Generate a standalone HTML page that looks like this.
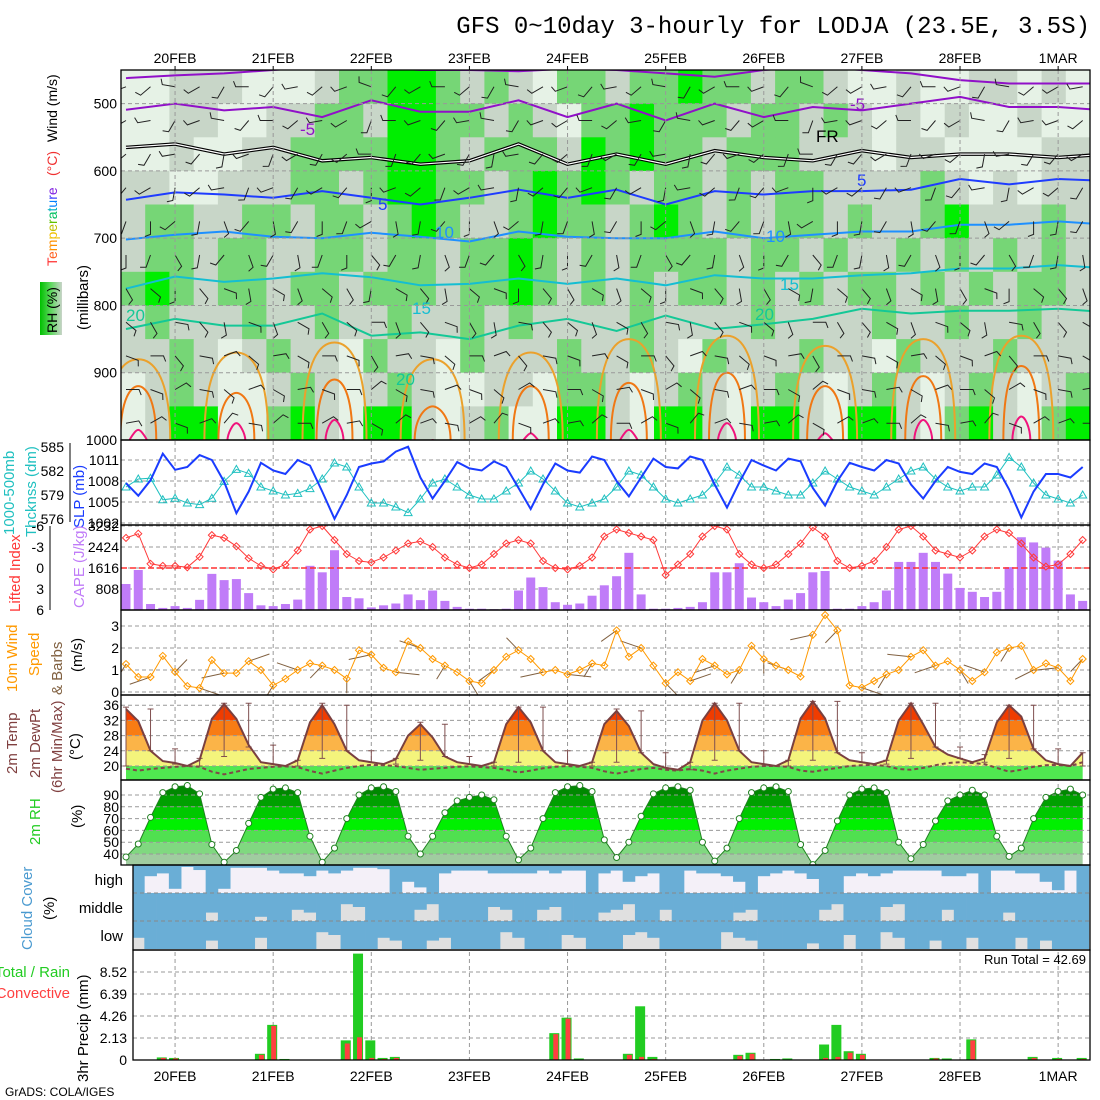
<!DOCTYPE html>
<html><head><meta charset="utf-8">
<style>
html,body{margin:0;padding:0;background:#fff;}
svg{display:block;font-family:"Liberation Sans",sans-serif;}
</style></head>
<body>
<svg id="chart" width="1100" height="1100" viewBox="0 0 1100 1100" xmlns="http://www.w3.org/2000/svg">
<defs>
<clipPath id="cpTop"><rect x="121" y="70" width="969" height="370"/></clipPath>
<clipPath id="cpSlp"><rect x="121" y="440" width="969" height="85"/></clipPath>
<clipPath id="cpLi"><rect x="121" y="525" width="969" height="85"/></clipPath>
<clipPath id="cpWs"><rect x="121" y="610" width="969" height="85"/></clipPath>
<clipPath id="cpT"><rect x="121" y="695" width="969" height="85"/></clipPath>
<clipPath id="cpRh"><rect x="121" y="780" width="969" height="85"/></clipPath>
<clipPath id="cpCl"><rect x="133" y="865" width="957" height="85"/></clipPath>
<clipPath id="cpPr"><rect x="133" y="950" width="957" height="110"/></clipPath>
<linearGradient id="rhLeg" x1="0" x2="1" y1="0" y2="0">
<stop offset="0" stop-color="#00c000"/><stop offset="0.5" stop-color="#60d860"/><stop offset="1" stop-color="#c8d4c8"/>
</linearGradient>
</defs>
<text x="1090" y="33" text-anchor="end" font-family="Liberation Mono, monospace" font-size="24" fill="#000">GFS 0~10day 3-hourly for LODJA (23.5E, 3.5S)</text>
<text x="5" y="1096" font-size="12" fill="#000">GrADS: COLA/IGES</text>
</svg>
<script>
// ---------- DATA ----------
const dayLabels=["20FEB","21FEB","22FEB","23FEB","24FEB","25FEB","26FEB","27FEB","28FEB","1MAR"];
const pressureTicks=[500,600,700,800,900,1000];
const slpTicks=[1011,1008,1005,1002];
const thkTicks=[585,582,579,576];
const liTicks=[-6,-3,0,3,6];
const capeTicks=[3232,2424,1616,808];
const wsTicks=[0,1,2,3];
const tTicks=[36,32,28,24,20];
const rhTicks=[90,80,70,60,50,40];
const prTicks=[8.52,6.39,4.26,2.13,0];
const cloudRows=["high","middle","low"];

const rhGrid=[
"1100011123344323213323343323321121100101",
"1100112233244332321334333233232121011011",
"1101122333344323332434332333222122111122",
"2211222332344332343432332323322223212122",
"2332233233234322343323432323323223422232",
"2332332233233233432323333233232232323232",
"3432332332333233432323233232323323232332",
"2322232232232232322223222232222322322322",
"2232123221322132223223213222322132223222",
"1232112321232112213321232123212321232123",
"1244113421442123114421442144214421342134"];

const isoM10=[462,458,455,450,445,445,450,450,452,448,450,455,460,450,445,450,455,465,470,470,470];
const isoM5=[509,500,510,505,520,495,512,512,495,520,500,525,500,520,505,510,500,490,505,505,510];
const iso0=[565,560,575,565,585,580,590,585,560,590,575,590,570,580,585,570,580,575,575,580,575];
const iso5=[643,632,635,640,630,640,650,640,628,640,628,650,630,635,630,630,628,612,620,612,615];
const iso10=[702,695,690,698,700,692,698,705,690,698,700,700,690,700,695,690,690,680,680,675,680];
const iso15=[775,757,765,760,752,758,770,768,760,768,760,770,755,760,760,755,752,745,745,740,745];
const iso20=[835,820,830,830,812,845,840,850,830,820,838,815,835,828,820,805,812,808,808,805,810];
const blobIdx=[1,9,17,25,33,41,49,57,65,73];
const blobTop25=[880,870,855,880,870,850,845,860,850,845];
const blobTop30=[920,930,910,950,920,915,900,920,905,890];
const blobTop35=[985,975,970,1000,990,985,975,990,970,965];

const barbLevels=[475,525,575,625,675,725,775,825,875,925,975];
const barbLevelDir=[250,240,230,220,200,180,150,130,110,90,80];
const barbTimeDir=[0,20,-30,10,40,-20,30,-10,20,0,-40,30,10,-20,20,40,-30,10,0,30,-10,20,-30,40,10,-20,0,30,-40,20,10,-10,30,-20,0,40,-30,20,10,-10];

const slp=[1007.7,1005.9,1008.1,1011.9,1009.6,1010.0,1011.7,1011.0,
1007.9,1003.4,1006.5,1010.6,1009.5,1009.0,1011.0,1010.2,
1006.5,1002.6,1006.0,1010.0,1010.5,1010.8,1012.2,1012.9,
1008.5,1005.5,1008.0,1010.7,1009.8,1009.5,1010.8,1010.0,
1007.0,1004.0,1007.5,1010.5,1009.5,1009.2,1011.5,1011.0,
1008.0,1005.8,1008.5,1011.2,1010.0,1009.8,1011.5,1011.0,
1007.5,1004.2,1007.8,1011.0,1010.2,1009.5,1011.2,1010.8,
1007.0,1004.5,1008.0,1010.6,1010.0,1009.5,1011.0,1010.5,
1007.5,1005.5,1008.0,1010.0,1009.3,1009.0,1010.5,1010.0,
1006.8,1002.8,1006.5,1009.0,1009.0,1008.5,1010.0];
const thk=[580.0,581.0,581.1,578.4,578.6,578.0,577.8,578.6,
580.7,582.2,581.7,580.0,579.5,579.0,579.2,579.8,
581.0,583.0,582.5,580.0,578.0,578.0,577.5,576.8,
578.5,580.5,581.0,580.0,579.0,578.5,578.5,579.5,
580.5,582.0,581.0,579.5,578.0,577.5,578.0,578.5,
580.0,582.0,581.5,580.0,578.5,578.0,578.5,579.0,
580.5,582.5,581.5,580.0,580.0,579.5,579.0,579.0,
580.5,582.0,581.0,580.0,579.5,579.0,580.0,581.0,
582.0,582.5,581.0,580.0,579.5,580.0,580.0,581.5,
583.7,582.5,580.5,579.0,578.5,578.0,579.0];
const li=[-4.3,-4.9,-0.6,-0.3,-0.3,-0.1,-1.6,-4.7,
-4.3,-3.1,-1.4,-0.3,0.2,-0.5,-2.5,-5.5,
-6.0,-4.0,-2.0,-1.0,-0.8,-1.5,-2.5,-3.5,
-3.8,-3.0,-1.5,-0.5,0,-0.5,-2.0,-3.5,
-4.0,-3.5,-1.0,0,0.2,-0.3,-1.5,-4.5,
-5.5,-5.0,-4.5,-4.0,1.0,-0.5,-2.0,-4.5,
-6.0,-5.5,-2.0,-0.5,0,-0.5,-2.0,-3.5,
-5.8,-4.5,-1.0,0,-0.3,-1.0,-3.0,-5.5,
-6.0,-4.5,-2.5,-2.0,-1.5,-2.5,-4.5,-5.5,
-5.0,-3.5,-1.5,-0.2,-0.5,-2.0,-4.0];
const cape=[1000,1540,230,80,150,80,390,1390,
1150,1190,650,180,150,230,400,1700,
1450,2300,500,450,100,180,250,600,
380,750,350,120,50,50,30,50,
750,1250,880,300,200,250,550,950,
1300,2200,600,50,50,80,120,300,
1450,1450,1800,480,300,150,400,650,
1450,1500,50,50,150,300,750,1850,
1850,2200,1850,1400,850,700,500,700,
1650,2800,2600,2400,1900,600,350];
const ws=[1.27,0.68,0.68,1.64,0.91,0.27,0.18,1.45,
0.86,0.86,1.4,1.0,0.3,0.6,1.0,1.3,
1.2,1.0,0.6,1.9,1.7,1.1,0.9,2.3,
2.0,1.5,1.2,0.9,0.5,0.4,1.0,1.6,
1.9,1.5,0.9,1.0,0.8,1.0,1.3,1.2,
2.8,1.6,2.0,1.2,0.4,0.9,0.5,1.5,
1.2,0.8,1.0,2.1,1.5,1.2,1.0,0.7,
2.6,3.5,2.8,0.3,0.2,0.5,0.8,1.0,
1.6,1.9,1.2,1.4,1.0,0.5,0.9,1.8,
2.0,2.1,1.0,1.3,1.1,0.5,1.5];
const wdir=[200,240,30,120,250,60,200,300,210,180,250,100,300,200,160,220,330,250,100,200,220,300,150,60,240,200,180,300,250,210,120,200,280,240,160,300,200,230,260,210];
const t2m=[35.0,31.8,24.0,21.3,20.8,20.0,21.6,32.4,
36.3,32.4,25.5,21.0,20.5,20.0,21.5,31.5,
36.0,31.0,24.0,21.5,21.0,20.5,21.8,28.0,
31.0,27.5,22.5,21.0,20.5,20.0,21.0,31.0,
35.5,31.5,24.0,21.0,20.5,20.0,21.0,31.0,
34.5,30.5,23.5,20.5,19.5,19.0,21.0,32.0,
36.5,32.0,24.0,21.0,20.5,20.0,21.5,32.5,
37.0,32.5,23.5,21.5,21.0,20.5,21.5,32.0,
36.5,31.0,25.0,23.0,22.0,21.0,22.0,31.5,
36.0,33.0,24.5,21.5,20.5,20.0,23.5];
const dew2m=[19.3,18.8,19.2,19.5,19.8,20.0,19.8,18.5,
17.8,18.5,19.2,19.5,19.8,19.9,19.7,18.7,
18.0,18.8,19.5,20.0,20.3,20.2,20.0,19.5,
19.0,19.3,19.5,19.8,19.9,19.7,19.5,19.0,
18.3,18.8,19.4,19.8,20.0,19.8,19.5,18.6,
18.0,18.6,19.2,19.5,19.0,18.8,19.2,18.8,
18.0,18.8,19.3,19.8,20.0,20.0,19.8,18.8,
18.5,19.0,19.5,20.0,20.2,20.3,20.0,19.2,
19.0,19.5,20.2,20.8,21.0,20.8,20.5,19.5,
18.5,19.0,19.8,20.2,20.3,20.0,21.0];
const tMax6=[35.5,35.0,24.5,22.0, 36.5,36.5,25.5,21.5, 36.5,36.0,24.0,22.0, 31.5,31.0,22.5,21.0, 35.5,35.5,24.0,21.0,
35.0,34.5,23.5,21.0, 36.5,36.5,24.0,21.5, 37.0,37.0,23.5,21.5, 36.5,36.5,25.0,23.0, 36.0,36.0,24.5,23.5];
const tMin6=[20.0,24.0,20.5,20.0, 22.5,25.0,20.5,20.0, 22.0,24.0,21.0,20.5, 21.5,22.5,20.5,20.0, 21.0,24.0,20.5,20.0,
21.0,23.5,19.5,19.0, 21.5,24.0,20.5,20.0, 21.5,23.5,21.0,20.5, 22.0,25.0,22.0,21.0, 22.0,24.5,20.5,20.0];
const rh2m=[37.5,48.5,71,92,97,98,91,48,
33,43,66,88,95,96,92,55,
33,45,70,90,96,97,93,55,
40,55,75,85,88,90,86,55,
35,45,70,92,97,98,93,52,
37,50,72,91,96,97,94,50,
34,45,70,92,96,97,93,48,
31,43,68,90,95,96,92,50,
36,48,68,85,90,94,90,55,
38,45,70,88,93,95,90];
const cloudHigh=[100,100,40,30,85,7,18,100, 85,10,10,10,20,30,30,40, 20,30,20,10,10,15,100,60, 80,100,30,20,20,20,30,30, 30,30,20,30,20,20,100,30,
20,60,40,30,100,100,20,30, 30,40,60,100,40,30,20,30, 50,100,100,40,30,40,30,20, 20,20,20,40,40,30,100,20, 20,30,30,60,90,20,100];
const cloudMid=[100,100,100,100,100,100,100,70, 100,100,100,85,100,100,60,70, 100,100,40,50,100,100,100,100, 60,40,100,100,100,100,50,60, 100,100,60,50,100,100,100,70,
60,40,100,100,60,100,100,100, 100,100,70,60,100,100,100,100, 100,60,40,100,100,100,50,40, 100,100,100,60,100,100,100,100, 70,100,100,100,100,100,100];
const cloudLow=[90,60,100,100,100,100,100,70, 100,100,100,60,100,100,100,100, 40,50,100,100,100,60,70,100, 100,70,60,100,100,100,100,40, 60,100,100,100,50,60,100,100,
100,50,40,60,100,100,100,100, 100,40,60,70,100,100,100,100, 80,100,100,50,100,100,40,60, 100,100,70,100,100,60,100,100, 100,60,100,70,100,100,100];
const precipTotal=[0,0,0,0.25,0.2,0,0,0, 0,0,0,0.6,3.4,0.1,0,0, 0,0,1.9,10.3,1.9,0.2,0.3,0, 0,0.05,0,0,0,0,0,0, 0,0,0,2.6,4.1,0.15,0,0,
0,0.6,5.2,0.3,0,0,0,0, 0,0,0.5,0.7,0,0.1,0.15,0, 0,1.5,3.4,0.85,0.6,0,0,0, 0,0,0.2,0.15,0,2.0,0,0, 0,0,0.3,0,0.2,0,0.2];
const precipConv=[0,0,0,0.2,0.15,0,0,0, 0,0,0,0.5,3.3,0,0,0, 0,0,1.6,2.2,0.2,0.1,0.2,0, 0,0,0,0,0,0,0,0, 0,0,0,2.5,4.0,0,0,0,
0,0.5,0.3,0.1,0,0,0,0, 0,0,0.4,0.6,0,0,0,0, 0,0.2,0.3,0.7,0.5,0,0,0, 0,0,0.15,0,0,1.9,0,0, 0,0,0.2,0,0.1,0,0.1];
const runTotal="42.69";

// ---------- SCALES ----------
const NS='http://www.w3.org/2000/svg';
const svg=document.getElementById('chart');
function mk(tag,attrs,parent){const e=document.createElementNS(NS,tag);for(const k in attrs)e.setAttribute(k,attrs[k]);(parent||svg).appendChild(e);return e;}
const X=i=>126+i*12.265;
const yP=p=>70+(p-450)*370/550;
const ySLP=m=>460+(1011-m)*7;
const yThk=d=>447+(585-d)*8;
const yLI=v=>568+v*7;
const yCAPE=c=>610-c/808*21;
const yWS=s=>692-s*22;
const yT=t=>766-(t-20)*3.8;
const yRH=r=>795-(r-90)*1.18;
const yPr=p=>1060-p/2.13*22;
const pts=(arr,fy)=>arr.map((v,i)=>X(i).toFixed(1)+','+fy(v).toFixed(1)).join(' ');
function grp(name,clip){const g=mk('g',clip?{'clip-path':'url(#'+clip+')'}:{});return g;}
function txt(parent,x,y,s,size,fill,anchor,rot){const t=mk('text',{x:x,y:y,'font-size':size,fill:fill,'text-anchor':anchor||'start'},parent);if(rot)t.setAttribute('transform','rotate(-90 '+x+' '+y+')');t.textContent=s;return t;}

// ---------- TOP PANEL ----------
const gTop=grp('upper-air-panel','cpTop');
const rhCol=['#ffffff','#e6f2e6','#c8d6c8','#76d676','#00ee00'];
const nCol=40,cw=969/nCol;
rhGrid.forEach((row,r)=>{
  const y0=yP(450+r*50)+(r===0?-1:0), y1=yP(500+r*50);
  for(let c=0;c<nCol;c++){
    const v=+row[c]||2;
    const cell=mk('rect',{x:(121+c*cw).toFixed(1),y:y0.toFixed(1),width:(cw+0.6).toFixed(1),height:(y1-y0+0.6).toFixed(1),fill:rhCol[v]},gTop);
    
    
  }
});
const gGrid=grp('upper-grid','cpTop');
pressureTicks.forEach(p=>{const l=mk('line',{x1:121,x2:1090,y1:yP(p),y2:yP(p),stroke:'#999','stroke-dasharray':'4,3','stroke-width':1},gGrid);});
function blob(arrTop,hw,color,name){
  blobIdx.forEach((c,k)=>{
    const xc=X(c),yt=yP(arrTop[k]),yb=yP(1002);
    const d='M'+(xc-hw)+','+yb+' C'+(xc-hw)+','+(yt+10)+' '+(xc-hw*0.35)+','+yt+' '+xc+','+yt+' C'+(xc+hw*0.35)+','+yt+' '+(xc+hw)+','+(yt+10)+' '+(xc+hw)+','+yb;
    const p=mk('path',{d:d,fill:'none',stroke:color,'stroke-width':2},gTop);
    
    
  });
}
blob(blobTop25,32,'#eba12c','isotherm-25');
blob(blobTop30,18,'#f07814','isotherm-30');
blob(blobTop35,9,'#f0147c','isotherm-35');
function iso(arr,color,name,w){
  const s=arr.map((p,k)=>X(k*4).toFixed(1)+','+yP(p).toFixed(1)).join(' ');
  const l=mk('polyline',{points:s,fill:'none',stroke:color,'stroke-width':w||2},gTop);
  
  
  return s;
}
iso(isoM10,'#9010c8','isotherm-minus10');
iso(isoM5,'#9010c8','isotherm-minus5');
iso(iso0,'#000','freezing-level-outer',3.5);
iso(iso0,'#fff','freezing-level-inner',1.2);
iso(iso5,'#1e3cff','isotherm-5');
iso(iso10,'#1e90ff','isotherm-10');
iso(iso15,'#14bed2','isotherm-15');
iso(iso20,'#14c896','isotherm-20');
for(let c=0;c<nCol;c++){
  barbLevels.forEach((p,l)=>{
    const a=(barbLevelDir[l]+barbTimeDir[c]*(l%2?1:-1))*Math.PI/180;
    const x0=X(c*2),y0=yP(p),x1=x0+Math.sin(a)*13,y1=y0-Math.cos(a)*13;
    const bx=x1+Math.sin(a+1.2)*6,by=y1-Math.cos(a+1.2)*6;
    const b=mk('polyline',{points:x0.toFixed(1)+','+y0.toFixed(1)+' '+x1.toFixed(1)+','+y1.toFixed(1)+' '+bx.toFixed(1)+','+by.toFixed(1),fill:'none',stroke:'#222','stroke-width':1},gTop);
    
    
  });
}
[['-5',300,135,'#9010c8'],['-5',850,110,'#9010c8'],['FR',816,142,'#000'],['5',378,210,'#1e3cff'],['5',857,186,'#1e3cff'],['10',435,238,'#1e90ff'],['10',766,242,'#1e90ff'],['15',412,314,'#14bed2'],['15',780,290,'#14bed2'],['20',126,321,'#14c896'],['20',755,320,'#14c896'],['20',396,385,'#14c896']].forEach(v=>{
  const t=txt(gTop,v[1],v[2],v[0],17,v[3]);
  
  
});

// ---------- DAY GRIDLINES ----------
const gDays=grp('day-gridlines');
dayLabels.forEach((d,k)=>{
  const x=X(4+8*k);
  const l=mk('line',{x1:x,x2:x,y1:70,y2:1060,stroke:'#999','stroke-dasharray':'4,3','stroke-width':1},gDays);
  
  
  const t1=txt(svg,x,63,d,14,'#000','middle');
  
  
  const t2=txt(svg,x,1081,d,14,'#000','middle');
  
  
  const tk=mk('line',{x1:x,x2:x,y1:66,y2:70,stroke:'#000'});
  
  
});

function hgrid(g,vals,fy,x0){vals.forEach(v=>{const l=mk('line',{x1:x0||121,x2:1090,y1:fy(v),y2:fy(v),stroke:'#999','stroke-dasharray':'4,3'},g);});}
function ticklabels(vals,fy,x,fmt){vals.forEach(v=>{const t=txt(svg,x,fy(v)+5,fmt?fmt(v):String(v),14,'#000','end');});}

// ---------- SLP / THICKNESS ----------
const gSlp=grp('slp-panel','cpSlp');
hgrid(gSlp,slpTicks,ySLP);
const thkLine=mk('polyline',{points:pts(thk,yThk),fill:'none',stroke:'#20c0c0','stroke-width':1},gSlp);


thk.forEach((v,i)=>{const x=X(i),y=yThk(v);const m=mk('polygon',{points:x+','+(y-4)+' '+(x-4)+','+(y+3)+' '+(x+4)+','+(y+3),fill:'none',stroke:'#20c0c0'},gSlp);});
const slpLine=mk('polyline',{points:pts(slp,ySLP),fill:'none',stroke:'#1a3cff','stroke-width':2},gSlp);


ticklabels(slpTicks,ySLP,119);
ticklabels(thkTicks,yThk,64);

// ---------- LI / CAPE ----------
const gLi=grp('li-cape-panel','cpLi');
hgrid(gLi,capeTicks,yCAPE);
cape.forEach((v,i)=>{const r=mk('rect',{x:X(i)-4.5,y:yCAPE(v),width:9,height:610-yCAPE(v),fill:'#c07cf8'},gLi);});
const zl=mk('line',{x1:121,x2:1090,y1:yLI(0),y2:yLI(0),stroke:'#ff3030','stroke-dasharray':'6,3','stroke-width':1.5},gLi);


const liLine=mk('polyline',{points:pts(li,yLI),fill:'none',stroke:'#ff3a3a','stroke-width':1},gLi);


li.forEach((v,i)=>{const x=X(i),y=yLI(v);const m=mk('polygon',{points:x+','+(y-3.5)+' '+(x+3.5)+','+y+' '+x+','+(y+3.5)+' '+(x-3.5)+','+y,fill:'none',stroke:'#ff3a3a'},gLi);});
ticklabels(capeTicks,yCAPE,119);
ticklabels(liTicks,yLI,44);

// ---------- WIND 10m ----------
const gWs=grp('wind10m-panel','cpWs');
hgrid(gWs,wsTicks,yWS);
wdir.forEach((d,k)=>{const i=k*2,a=d*Math.PI/180,x0=X(i),y0=yWS(ws[i]);const b=mk('line',{x1:x0,y1:y0,x2:x0+Math.sin(a)*24,y2:y0-Math.cos(a)*24*0.6,stroke:'#806040','stroke-width':1},gWs);});
const wsLine=mk('polyline',{points:pts(ws,yWS),fill:'none',stroke:'#ff9900','stroke-width':1},gWs);


ws.forEach((v,i)=>{const x=X(i),y=yWS(v);const m=mk('polygon',{points:x+','+(y-3.5)+' '+(x+3.5)+','+y+' '+x+','+(y+3.5)+' '+(x-3.5)+','+y,fill:'none',stroke:'#ff9900'},gWs);});
ticklabels(wsTicks,yWS,119);

// ---------- TEMPERATURE ----------
const cpTF=mk('clipPath',{id:'cpTFill'},svg.querySelector('defs'));
mk('polygon',{points:X(0)+',781 '+pts(t2m,yT)+' '+X(t2m.length-1)+',781'},cpTF);
const gT=grp('temp-panel','cpT');
const gTF=mk('g',{'clip-path':'url(#cpTFill)'},gT);


[[-99,20,'#50e850'],[20,24,'#f4f47c'],[24,28,'#fbb448'],[28,32,'#f87c14'],[32,99,'#f03c00']].forEach(b=>{
  const y0=Math.max(695,yT(b[1])),y1=Math.min(781,yT(b[0]));
  const r=mk('rect',{x:121,y:y0,width:969,height:Math.max(0,y1-y0),fill:b[2]},gTF);
  
  
});
hgrid(gT,tTicks,yT);
tMax6.forEach((v,k)=>{const x=X(k*2);const l=mk('polyline',{points:(x-3)+','+yT(v)+' '+(x+3)+','+yT(v)+' '+x+','+yT(v)+' '+x+','+yT(tMin6[k])+' '+(x-3)+','+yT(tMin6[k])+' '+(x+3)+','+yT(tMin6[k]),fill:'none',stroke:'#805050','stroke-width':1},gT);});
const dewLine=mk('polyline',{points:pts(dew2m,yT),fill:'none',stroke:'#804848','stroke-width':2,'stroke-dasharray':'4,3'},gT);


const tLine=mk('polyline',{points:pts(t2m,yT),fill:'none',stroke:'#7a4040','stroke-width':2},gT);


ticklabels(tTicks,yT,119);

// ---------- RH 2m ----------
const cpRF=mk('clipPath',{id:'cpRFill'},svg.querySelector('defs'));
mk('polygon',{points:X(0)+',866 '+pts(rh2m,yRH)+' '+X(rh2m.length-1)+',866'},cpRF);
const gR=grp('rh2m-panel','cpRh');
const gRF=mk('g',{'clip-path':'url(#cpRFill)'},gR);


[[0,40,'#a0cca0'],[40,50,'#80d880'],[50,60,'#50e050'],[60,70,'#00f000'],[70,80,'#00c800'],[80,90,'#00a000'],[90,101,'#008800']].forEach(b=>{
  const y0=Math.max(780,yRH(b[1])),y1=Math.min(866,yRH(b[0]));
  const r=mk('rect',{x:121,y:y0,width:969,height:Math.max(0,y1-y0),fill:b[2]},gRF);
  
  
});
hgrid(gR,rhTicks,yRH);
const rhLine=mk('polyline',{points:pts(rh2m,yRH),fill:'none',stroke:'#208020','stroke-width':1},gR);


rh2m.forEach((v,i)=>{const c=mk('circle',{cx:X(i),cy:yRH(v),r:3,fill:'#fff',stroke:'#208020'},gR);});
ticklabels(rhTicks,yRH,119);

// ---------- CLOUD ----------
const gC=grp('cloud-panel','cpCl');
const cRows=[[cloudHigh,865,'#f4f0f8'],[cloudMid,893,'#e0e0e0'],[cloudLow,921,'#e0e0e0']];
cRows.forEach((r,k)=>{
  const bg=mk('rect',{x:133,y:r[1],width:957,height:28,fill:r[2]},gC);
  
  
  r[0].forEach((v,i)=>{const b=mk('rect',{x:X(i)-6.2,y:r[1],width:12.6,height:28*v/100,fill:'#6aaed6'},gC);});
  const t=txt(svg,123,r[1]+20,cloudRows[k],15,'#000','end');
  
  
});
[893,921].forEach(y=>{const l=mk('line',{x1:133,x2:1090,y1:y,y2:y,stroke:'#888','stroke-dasharray':'4,3'},gC);});

// ---------- PRECIP ----------
const gPr=grp('precip-panel','cpPr');
hgrid(gPr,prTicks,yPr,133);
precipTotal.forEach((v,i)=>{if(v<=0)return;const b=mk('rect',{x:X(i)-6,y:yPr(v),width:10,height:1060-yPr(v),fill:'#22cc22'},gPr);});
precipConv.forEach((v,i)=>{if(v<=0)return;const b=mk('rect',{x:X(i)-2,y:yPr(v),width:5,height:1060-yPr(v),fill:'#ff4040'},gPr);});
ticklabels(prTicks,yPr,127,v=>v===0?'0':v.toFixed(2));
const rt=txt(svg,1086,964,'Run Total = '+runTotal,13,'#000','end');



// ---------- FRAMES ----------
[[121,70,969,370],[121,440,969,85],[121,525,969,85],[121,610,969,85],[121,695,969,85],[121,780,969,85],[133,865,957,85],[133,950,957,110]].forEach(f=>{
  const r=mk('rect',{x:f[0],y:f[1],width:f[2],height:f[3],fill:'none',stroke:'#000','stroke-width':1.3});
  
  
});
const ax1=mk('line',{x1:70,x2:70,y1:443,y2:522,stroke:'#000'});


const ax2=mk('line',{x1:50,x2:50,y1:526,y2:610,stroke:'#000'});


ticklabels(pressureTicks,yP,117);

// ---------- AXIS TITLES ----------
[['Wind (m/s)',57,142,'#000',14],['(°C)',57,176,'#f03030',14],['(millibars)',88,330,'#000',15],
 ['1000-500mb',14,535,'#20c0c0',15],['Thcknss (dm)',36,537,'#20c0c0',15],['SLP (mb)',84,528,'#1a3cff',15],
 ['Lifted Index',20,612,'#ff3a3a',15],['CAPE (J/kg)',84,608,'#c07cf8',15],
 ['10m Wind',17,692,'#ff9900',15],['Speed',39,676,'#ff9900',15],['& Barbs',62,695,'#806040',15],['(m/s)',82,672,'#000',15],
 ['2m Temp',17,774,'#804040',15],['2m DewPt',40,778,'#804040',15],['(6hr Min/Max)',62,793,'#804040',15],['(°C)',80,760,'#000',15],
 ['2m RH',40,845,'#22cc22',15],['(%)',82,828,'#000',15],
 ['Cloud Cover',32,950,'#4a9ad0',15],['(%)',54,920,'#000',15],['3hr Precip (mm)',88,1082,'#000',15]].forEach(a=>{
  const t=txt(svg,a[1],a[2],a[0],a[4],a[3],'start',true);
  
  
});
const tempT=mk('text',{x:57,y:266,'font-size':14,transform:'rotate(-90 57 266)'});


const tcols=['#ff3030','#ff6020','#ff9000','#f0c000','#c0c000','#60c000','#00c060','#00b0c0','#0080ff','#4040ff','#8020e0'];
'Temperature'.split('').forEach((ch,k)=>{const s=mk('tspan',{fill:tcols[k]},tempT);s.textContent=ch;});
const leg=mk('rect',{x:40,y:282,width:22,height:53,fill:'url(#rhLeg)'});


const legT=txt(svg,57,333,'RH (%)',14,'#000','start',true);


const pt1=txt(svg,70,977,'Total / Rain',15,'#22cc22','end');


const pt2=txt(svg,70,998,'Convective',15,'#ff4040','end');


</script>
</body></html>
